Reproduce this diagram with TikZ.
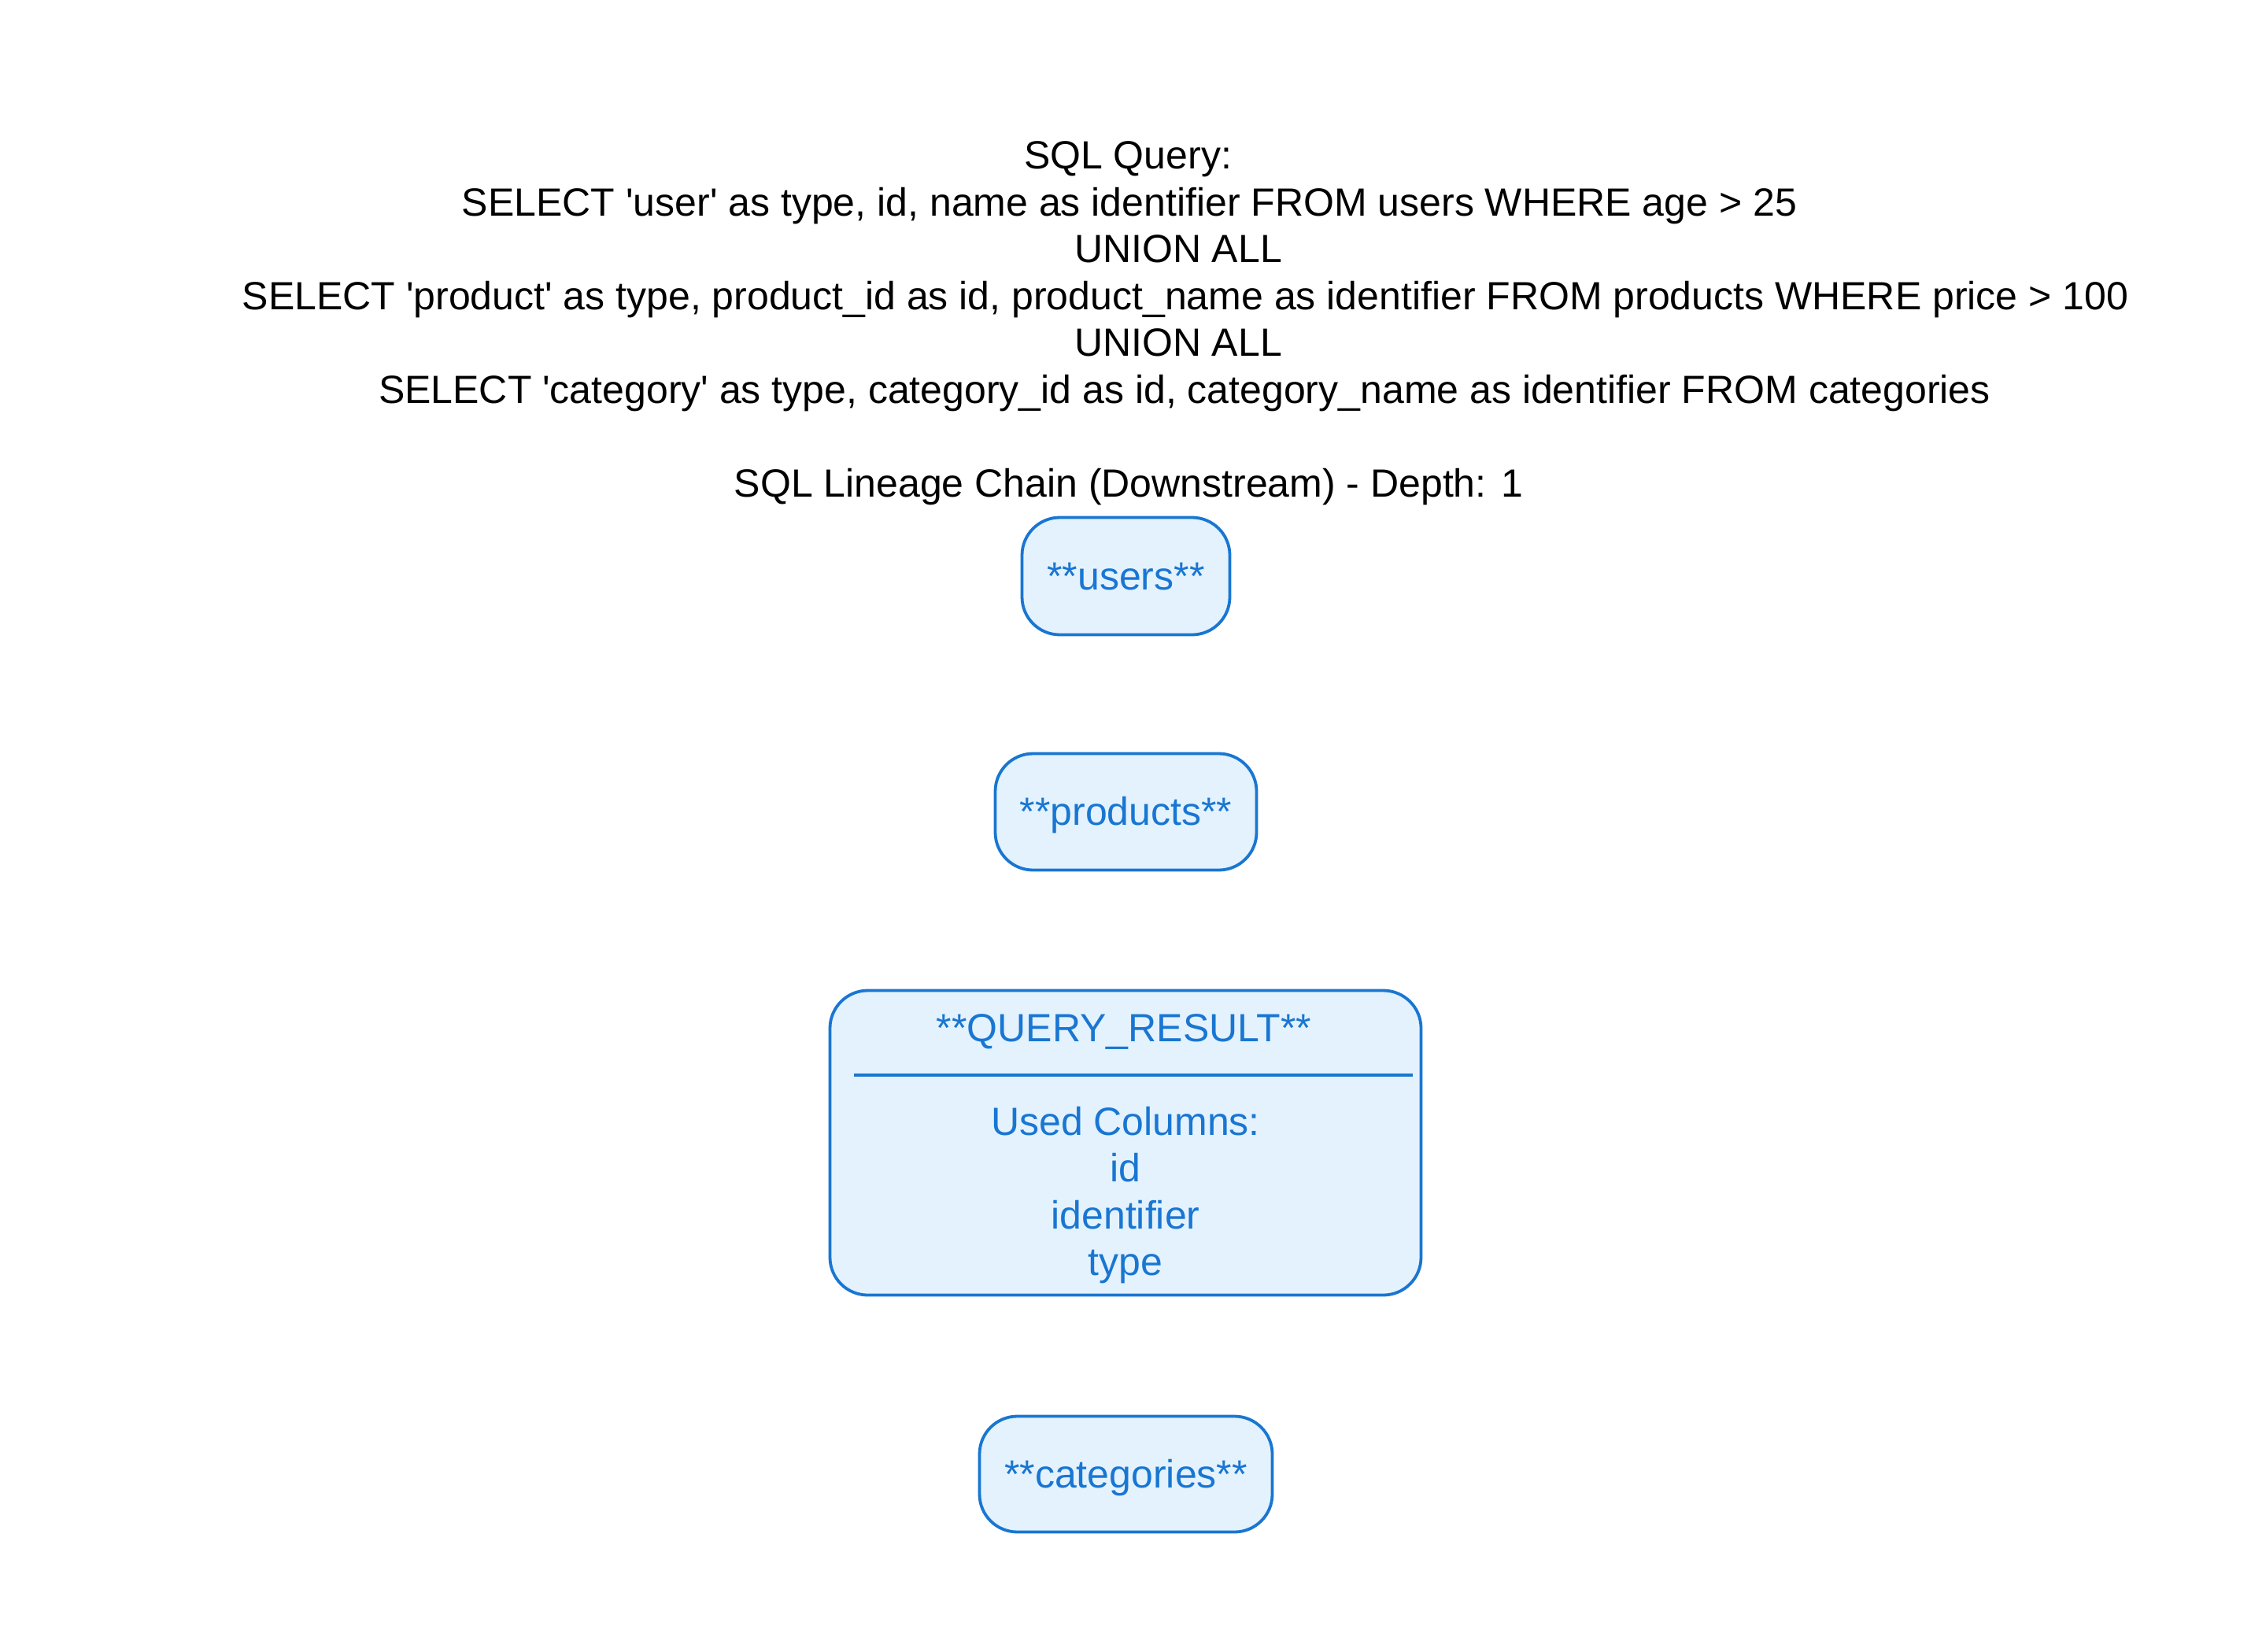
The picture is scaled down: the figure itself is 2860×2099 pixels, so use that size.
\documentclass[tikz,border=0pt]{standalone}
\usepackage{fontspec}
\setmainfont{Liberation Sans}[Ligatures=TeXOff]
\definecolor{nodeblue}{HTML}{1976D2}
\definecolor{nodefill}{HTML}{E3F2FD}
\tikzset{
  txt/.style={font=\fontsize{12.5pt}{15pt}\selectfont, inner sep=0pt, outer sep=0pt, anchor=base},
  hdr/.style={txt, text=black},
  btxt/.style={txt, text=nodeblue},
  tbl/.style={draw=nodeblue, fill=nodefill, line width=0.95pt, rounded corners=12pt,
    inner sep=0pt, outer sep=0pt, text=nodeblue,
    font=\fontsize{12.5pt}{15pt}\selectfont, text height=0.86em, text depth=0pt},
}
\begin{document}
\begin{tikzpicture}[x=0.25pt,y=-0.25pt]
\useasboundingbox[fill=white] (0,0) rectangle (2860,2099);
% header
\node[hdr] (h1) at (1433,214) {SQL Query:};
\node[hdr] (h2) at (1435,274) {SELECT \textquotesingle user\textquotesingle{} as type, id, name as identifier FROM users WHERE age > 25};
\node[hdr] (h3) at (1497,333.5) {UNION ALL};
\node[hdr] (h4) at (1506,393) {SELECT \textquotesingle product\textquotesingle{} as type, product\_id as id, product\_name as identifier FROM products WHERE price > 100};
\node[hdr] (h5) at (1497,452.5) {UNION ALL};
\node[hdr] (h6) at (1505,512) {SELECT \textquotesingle category\textquotesingle{} as type, category\_id as id, category\_name as identifier FROM categories};
\node[hdr] (h7) at (1434,631.5) {SQL Lineage Chain (Downstream) - Depth: 1};
% boxes
\node[tbl, minimum width=66pt, minimum height=37.25pt] (users) at (1430.5,732) {**users**};
\node[tbl, minimum width=83pt, minimum height=37pt] (products) at (1430.5,1031.5) {**products**};
\node[tbl, minimum width=187.75pt, minimum height=96.75pt] (qr) at (1430,1452) {};
\node[btxt] (qrt) at (1428,1323) {**QUERY\_RESULT**};
\draw[nodeblue, line width=1pt] (1085,1366) coordinate (sepl) -- (1795,1366) coordinate (sepr);
\node[btxt] (qc0) at (1430,1442) {Used Columns:};
\node[btxt] (qc1) at (1430,1501) {id};
\node[btxt] (qc2) at (1430,1561) {identifier};
\node[btxt] (qc3) at (1430,1620) {type};
\node[tbl, minimum width=93pt, minimum height=36.75pt] (categories) at (1430.5,1873) {**categories**};
\end{tikzpicture}
\end{document}
